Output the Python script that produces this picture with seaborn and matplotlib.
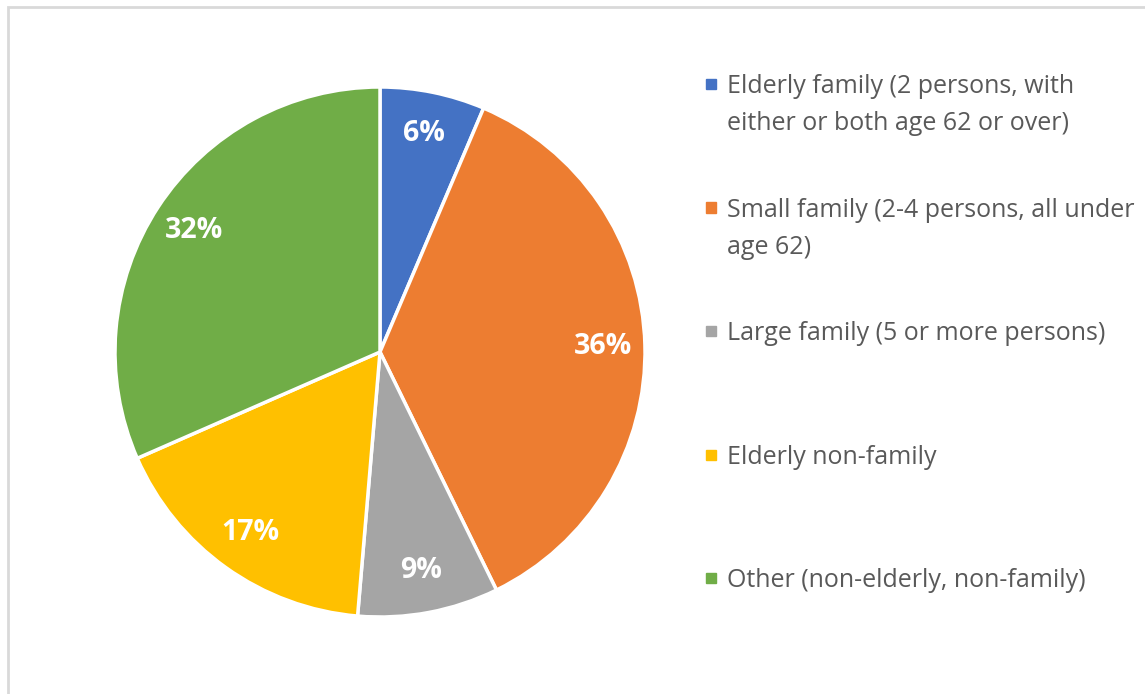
import matplotlib
matplotlib.use("Agg")
import matplotlib.pyplot as plt
from matplotlib.patches import Rectangle
import seaborn as sns

# household types and their share (%)
categories = [
    "Elderly family (2 persons, with\neither or both age 62 or over)",
    "Small family (2-4 persons, all under\nage 62)",
    "Large family (5 or more persons)",
    "Elderly non-family",
    "Other (non-elderly, non-family)",
]
shares = [6.4, 36.4, 8.6, 17.1, 31.6]
slice_colors = ["#4472C4", "#ED7D31", "#A5A5A5", "#FFC000", "#70AD47"]

sns.set_theme(style="white")
plt.rcParams["font.family"] = ["Open Sans", "DejaVu Sans"]

W, H = 1145, 694
fig = plt.figure(figsize=(W / 100, H / 100), dpi=100)

# pie sits in a square box, center ~ (380, 352) px, radius ~265 px
cx, cy, r = 380, 352, 265
ax = fig.add_axes([(cx - r) / W, (H - cy - r) / H, 2 * r / W, 2 * r / H])
wedges, texts, autotexts = ax.pie(
    shares,
    colors=sns.color_palette(slice_colors),
    startangle=90,
    counterclock=False,
    radius=1,
    autopct="%.0f%%",
    pctdistance=0.84,
    wedgeprops=dict(edgecolor="white", linewidth=2.5),
    textprops=dict(color="white", fontsize=20.5, fontweight="bold"),
)
ax.set_xlim(-1, 1)
ax.set_ylim(-1, 1)
ax.set_aspect("equal")
ax.axis("off")

# legend on the right, drawn by hand so the square lines up with first line
base0 = 93
step = 123.5
line_px = 37
for i, (lab, col) in enumerate(zip(categories, slice_colors)):
    yb = base0 + i * step
    fig.patches.append(Rectangle((706 / W, 1 - (yb - 4) / H), 10 / W, 10 / H,
                                 transform=fig.transFigure, color=col, figure=fig))
    # va="baseline" uses the last line, so push wrapped labels down
    y_last = yb + lab.count("\n") * line_px
    fig.text(727 / W, 1 - y_last / H, lab, ha="left", va="baseline",
             fontsize=18, color="#595959", linespacing=1.62)

# light grey frame around the chart area
fig.patches.append(Rectangle((8 / W, -0.1), 1.2, 1 - 7 / H + 0.1, transform=fig.transFigure,
                             fill=False, edgecolor="#D9D9D9", linewidth=2, figure=fig))

fig.savefig("out.png", dpi=100)
